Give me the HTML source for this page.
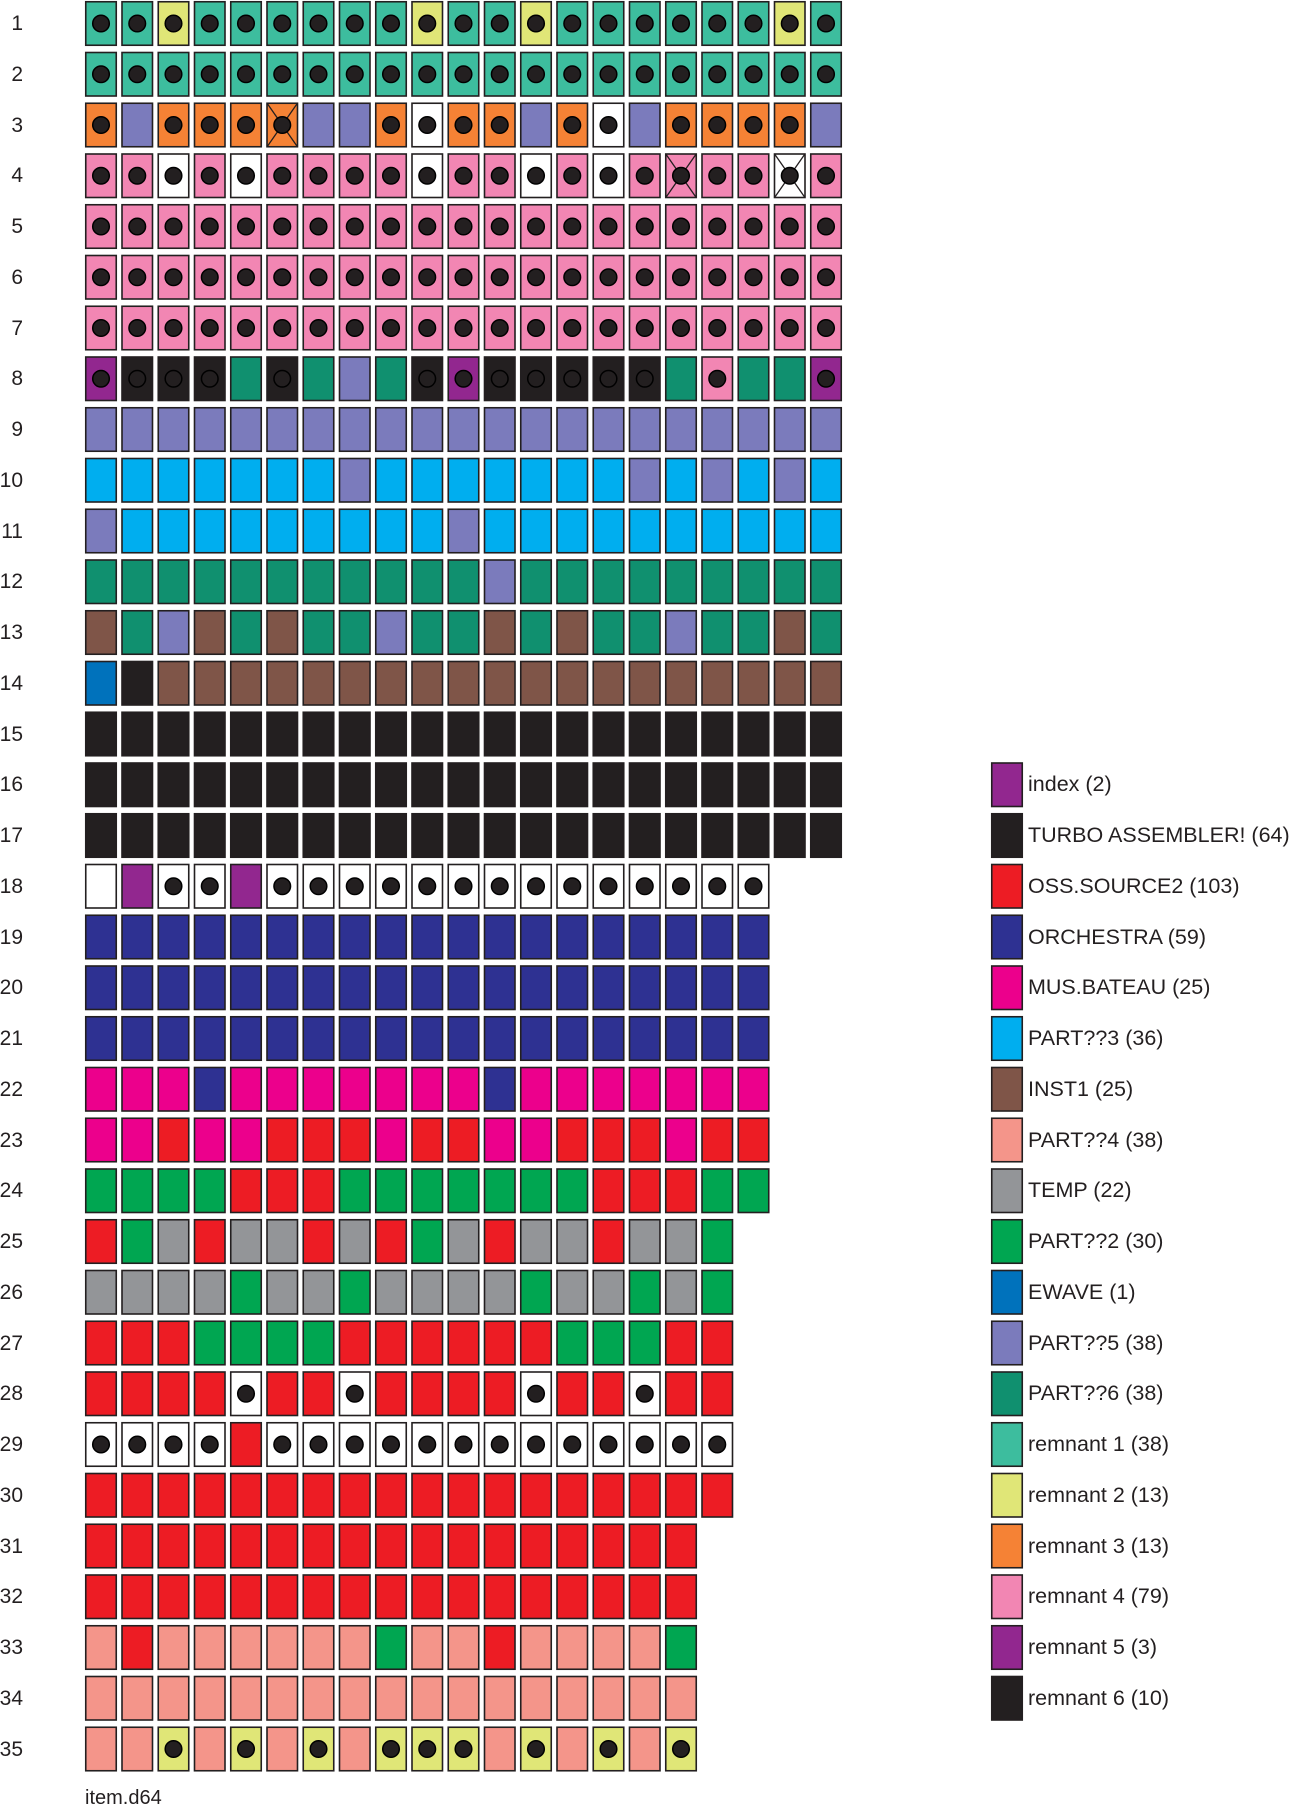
<!DOCTYPE html>
<html><head><meta charset="utf-8"><style>
html,body{margin:0;padding:0;background:#fff;}
svg{display:block;}
text{font-family:"Liberation Sans",sans-serif;fill:#231f20;}
</style></head><body>
<svg id="s" width="1290" height="1809" xmlns="http://www.w3.org/2000/svg">
<g id="cells"></g>
<g font-size="21" text-anchor="end">
<text x="23" y="30">1</text><text x="23" y="81">2</text><text x="23" y="132">3</text><text x="23" y="182">4</text><text x="23" y="233">5</text><text x="23" y="284">6</text><text x="23" y="335">7</text><text x="23" y="385">8</text><text x="23" y="436">9</text><text x="23" y="487">10</text><text x="23" y="538">11</text><text x="23" y="588">12</text><text x="23" y="639">13</text><text x="23" y="690">14</text><text x="23" y="741">15</text><text x="23" y="791">16</text><text x="23" y="842">17</text><text x="23" y="893">18</text><text x="23" y="944">19</text><text x="23" y="994">20</text><text x="23" y="1045">21</text><text x="23" y="1096">22</text><text x="23" y="1147">23</text><text x="23" y="1197">24</text><text x="23" y="1248">25</text><text x="23" y="1299">26</text><text x="23" y="1350">27</text><text x="23" y="1400">28</text><text x="23" y="1451">29</text><text x="23" y="1502">30</text><text x="23" y="1553">31</text><text x="23" y="1603">32</text><text x="23" y="1654">33</text><text x="23" y="1705">34</text><text x="23" y="1756">35</text>
</g>
<g font-size="21.5">
<text x="1028" y="791">index (2)</text>
<text x="1028" y="842">TURBO ASSEMBLER! (64)</text>
<text x="1028" y="893">OSS.SOURCE2 (103)</text>
<text x="1028" y="944">ORCHESTRA (59)</text>
<text x="1028" y="994">MUS.BATEAU (25)</text>
<text x="1028" y="1045">PART??3 (36)</text>
<text x="1028" y="1096">INST1 (25)</text>
<text x="1028" y="1147">PART??4 (38)</text>
<text x="1028" y="1197">TEMP (22)</text>
<text x="1028" y="1248">PART??2 (30)</text>
<text x="1028" y="1299">EWAVE (1)</text>
<text x="1028" y="1350">PART??5 (38)</text>
<text x="1028" y="1400">PART??6 (38)</text>
<text x="1028" y="1451">remnant 1 (38)</text>
<text x="1028" y="1502">remnant 2 (13)</text>
<text x="1028" y="1553">remnant 3 (13)</text>
<text x="1028" y="1603">remnant 4 (79)</text>
<text x="1028" y="1654">remnant 5 (3)</text>
<text x="1028" y="1705">remnant 6 (10)</text>
</g>
<text x="85" y="1804" font-size="20">item.d64</text>
</svg>
<script>
var C={i:"#92278f",K:"#231f20",R:"#ed1c24",O:"#2e3192",M:"#ec008c",B:"#00aeef",N:"#7f5548",S:"#f4958a",T:"#939598",G:"#00a651",E:"#0072bc",P:"#7b7bbc",D:"#10906f",a:"#3dbd9e",y:"#e0e677",o:"#f58235",p:"#f286b3",u:"#92278f",k:"#231f20",W:"#ffffff"};
function rep(t,n){return Array(n+1).join(t+" ").trim();}
var rows=[
"a. a. y. a. a. a. a. a. a. y. a. a. y. a. a. a. a. a. a. y. a.",
rep("a.",21),
"o. P o. o. o. o.x P P o. W. o. o. P o. W. P o. o. o. o. P",
"p. p. W. p. W. p. p. p. p. W. p. p. W. p. W. p. p.x p. p. W.x p.",
rep("p.",21),rep("p.",21),rep("p.",21),
"u. k. k. k. D k. D P D k. u. k. k. k. k. k. D p. D D u.",
rep("P",21),
"B B B B B B B P B B B B B B B P B P B P B",
"P B B B B B B B B B P B B B B B B B B B B",
"D D D D D D D D D D D P D D D D D D D D D",
"N D P N D N D D P D D N D N D D P D D N D",
"E K "+rep("N",19),
rep("K",21),rep("K",21),rep("K",21),
"W i W. W. i W. W. W. W. W. W. W. W. W. W. W. W. W. W.",
rep("O",19),rep("O",19),rep("O",19),
"M M M O M M M M M M M O M M M M M M M",
"M M R M M R R R M R R M M R R R M R R",
"G G G G R R R G G G G G G G R R R G G",
"R G T R T T R T R G T R T T R T T G",
"T T T T G T T G T T T T G T T G T G",
"R R R G G G G R R R R R R G G G R R",
"R R R R W. R R W. R R R R W. R R W. R R",
"W. W. W. W. R W. W. W. W. W. W. W. W. W. W. W. W. W.",
rep("R",18),rep("R",17),rep("R",17),
"S R S S S S S S G S S R S S S S G",
rep("S",17),
"S S y. S y. S y. S y. y. y. S y. S y. S y."
];
var g=document.getElementById("cells"),h="";
function cell(x,y,col,dot,X){
 var s='<rect x="'+(x+0.75)+'" y="'+(y+0.75)+'" width="30.5" height="43.5" fill="'+col+'" stroke="#231f20" stroke-width="1.6"/>';
 if(X){s+='<line x1="'+(x+1)+'" y1="'+(y+1)+'" x2="'+(x+31)+'" y2="'+(y+44)+'" stroke="#231f20" stroke-width="1.3"/><line x1="'+(x+31)+'" y1="'+(y+1)+'" x2="'+(x+1)+'" y2="'+(y+44)+'" stroke="#231f20" stroke-width="1.3"/>';}
 if(dot){s+='<circle cx="'+(x+16)+'" cy="'+(y+22.5)+'" r="8.3" fill="#231f20" stroke="#000" stroke-width="1.5"/>';}
 return s;
}
rows.forEach(function(r,ri){
 var y=1+ri*50.75;
 r.split(" ").forEach(function(t,ci){
  var x=85+ci*36.25;
  h+=cell(x,y,C[t[0]],t.indexOf(".")>=0,t.indexOf("x")>=0);
 });
});
var leg=["i","K","R","O","M","B","N","S","T","G","E","P","D","a","y","o","p","u","k"];
leg.forEach(function(t,i){h+=cell(991,1+(15+i)*50.75,C[t],false,false);});
g.innerHTML=h;
</script>
</body></html>
